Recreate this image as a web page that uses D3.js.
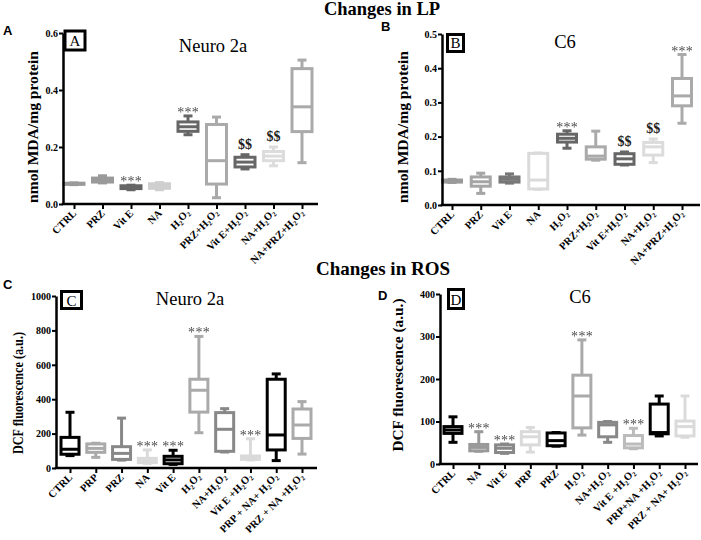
<!DOCTYPE html>
<html>
<head>
<meta charset="utf-8">
<script src="https://cdn.jsdelivr.net/npm/d3@7"></script>
<style>
  html, body { margin: 0; padding: 0; background: #fff; }
  svg { display: block; }
</style>
</head>
<body>
<svg id="chart" width="701" height="540"></svg>
<script>
// ---------------- DATA ----------------
// Box stats per group: [min, q1, median, q3, max]
const lpCategories = ["CTRL", "PRZ", "Vit E", "NA", "H₂O₂", "PRZ+H₂O₂", "Vit E+H₂O₂", "NA+H₂O₂", "NA+PRZ+H₂O₂"];
const lpNeuroStats = [
  [0.068, 0.069, 0.071, 0.073, 0.074],
  [0.074, 0.077, 0.084, 0.091, 0.099],
  [0.050, 0.054, 0.059, 0.064, 0.066],
  [0.050, 0.055, 0.064, 0.071, 0.075],
  [0.243, 0.255, 0.271, 0.288, 0.309],
  [0.022, 0.070, 0.152, 0.279, 0.305],
  [0.123, 0.130, 0.147, 0.164, 0.173],
  [0.134, 0.152, 0.168, 0.184, 0.200],
  [0.145, 0.254, 0.341, 0.475, 0.505]
];
const lpNeuroMarks = ["", "", "***", "", "***", "", "$$", "$$", ""];

const lpC6Stats = [
  [0.066, 0.067, 0.070, 0.073, 0.075],
  [0.034, 0.055, 0.068, 0.082, 0.093],
  [0.064, 0.067, 0.075, 0.082, 0.091],
  [0.046, 0.047, 0.073, 0.151, 0.152],
  [0.166, 0.184, 0.195, 0.207, 0.217],
  [0.131, 0.134, 0.143, 0.170, 0.216],
  [0.117, 0.119, 0.135, 0.150, 0.155],
  [0.124, 0.146, 0.170, 0.183, 0.193],
  [0.239, 0.290, 0.319, 0.370, 0.440]
];
const lpC6Marks = ["", "", "", "", "***", "", "$$", "$$", "***"];

const rosNeuroCategories = ["CTRL", "PRP", "PRZ", "NA", "Vit E", "H₂O₂", "NA+H₂O₂", "Vit E +H₂O₂", "PRP + NA+ H₂O₂", "PRZ + NA +H₂O₂"];
const rosNeuroStats = [
  [72, 80, 109, 178, 324],
  [62, 91, 114, 140, 144],
  [46, 50, 85, 124, 290],
  [27, 31, 43, 56, 105],
  [21, 25, 47, 68, 103],
  [205, 325, 452, 516, 765],
  [93, 97, 225, 322, 345],
  [47, 50, 58, 70, 170],
  [43, 105, 192, 516, 547],
  [81, 172, 250, 343, 386]
];
const rosNeuroMarks = ["", "", "", "***", "***", "***", "", "***", "", ""];

const rosC6Categories = ["CTRL", "NA", "Vit E", "PRP", "PRZ", "H₂O₂", "NA+H₂O₂", "Vit E +H₂O₂", "PRP+NA +H₂O₂", "PRZ + NA+ H₂O₂"];
const rosC6Stats = [
  [51, 72, 80, 88, 111],
  [30, 31, 39, 46, 76],
  [25, 27, 37, 45, 47],
  [28, 45, 64, 76, 86],
  [42, 43, 55, 73, 74],
  [68, 85, 160, 209, 292],
  [51, 64, 92, 98, 100],
  [36, 38, 47, 67, 84],
  [66, 71, 74, 141, 160],
  [63, 66, 88, 101, 160]
];
const rosC6Marks = ["", "***", "***", "", "", "***", "", "***", "", ""];

const lpNeuroTicks = [0, 0.2, 0.4, 0.6];
const lpC6Ticks = [0, 0.1, 0.2, 0.3, 0.4, 0.5];
const rosNeuroTicks = [0, 200, 400, 600, 800, 1000];
const rosC6Ticks = [0, 100, 200, 300, 400];

// ---------------- STYLE / LAYOUT ----------------
const panels = [
  {
    cats: lpCategories, stats: lpNeuroStats, marks: lpNeuroMarks,
    colors: ["#9a9a9a", "#9a9a9a", "#666", "#cfcfcf", "#666", "#aaa", "#666", "#dcdcdc", "#aaa"],
    domain: [0, 0.6], ticks: lpNeuroTicks, fmt: d3.format(".1f"),
    ax: 63, axEnd: 318, pFirst: 74, pLast: 302, yTop: 33, yBot: 204, boxW: 20,
    title: "Neuro 2a", titleX: 213, titleY: 52,
    letter: "A", letterX: 3, letterY: 35,
    box: [65, 31, 20, 19], boxLetterY: 46,
    yLabel: "nmol MDA/mg protein", yLabelX: 38, yLabelY: 127, yLabelLen: 152
  },
  {
    cats: lpCategories, stats: lpC6Stats, marks: lpC6Marks,
    colors: ["#9a9a9a", "#a5a5a5", "#777", "#dadada", "#666", "#aaa", "#666", "#dcdcdc", "#aaa"],
    domain: [0, 0.5], ticks: lpC6Ticks, fmt: d3.format(".1f"),
    ax: 442, axEnd: 700, pFirst: 452, pLast: 682, yTop: 34, yBot: 205, boxW: 19,
    title: "C6", titleX: 565, titleY: 48,
    letter: "B", letterX: 381, letterY: 31,
    box: [447.5, 34.5, 16, 17], boxLetterY: 48,
    yLabel: "nmol MDA/mg protein", yLabelX: 408, yLabelY: 127, yLabelLen: 152
  },
  {
    cats: rosNeuroCategories, stats: rosNeuroStats, marks: rosNeuroMarks,
    colors: ["#000", "#aaa", "#888", "#dadada", "#000", "#aaa", "#888", "#dadada", "#000", "#aaa"],
    domain: [0, 1000], ticks: rosNeuroTicks, fmt: d3.format("d"),
    ax: 56, axEnd: 317, pFirst: 70, pLast: 302, yTop: 296, yBot: 468, boxW: 18,
    title: "Neuro 2a", titleX: 190, titleY: 305,
    letter: "C", letterX: 3, letterY: 289,
    box: [61.5, 291.5, 20, 17], boxLetterY: 306,
    yLabel: "DCF fluorescence (a.u.)", yLabelX: 23, yLabelY: 393, yLabelLen: 122
  },
  {
    cats: rosC6Categories, stats: rosC6Stats, marks: rosC6Marks,
    colors: ["#000", "#999", "#888", "#dadada", "#000", "#aaa", "#888", "#bbb", "#000", "#dadada"],
    domain: [0, 400], ticks: rosC6Ticks, fmt: d3.format("d"),
    ax: 440, axEnd: 698, pFirst: 453, pLast: 685, yTop: 294, yBot: 464, boxW: 18,
    title: "C6", titleX: 580, titleY: 303,
    letter: "D", letterX: 378, letterY: 300,
    box: [448.5, 289.5, 15, 19], boxLetterY: 305,
    yLabel: "DCF fluorescence (a.u.)", yLabelX: 403, yLabelY: 375, yLabelLen: 153
  }
];

const SERIF = "'Liberation Serif', 'Times New Roman', serif";
const SANS = "'Liberation Sans', Arial, sans-serif";
const svg = d3.select("#chart");

// grayscale rendering filter for thin glyphs
const defs = svg.append("defs");
defs.append("filter").attr("id", "gray").attr("x", "-20%").attr("y", "-50%").attr("width", "140%").attr("height", "200%")
  .append("feColorMatrix").attr("type", "saturate").attr("values", 0);

// Global headings
svg.append("text").attr("x", 382).attr("y", 15).attr("text-anchor", "middle")
  .attr("font-family", SERIF).attr("font-weight", "bold").attr("font-size", 18.5)
  .text("Changes in LP");
svg.append("text").attr("x", 383).attr("y", 275).attr("text-anchor", "middle")
  .attr("font-family", SERIF).attr("font-weight", "bold").attr("font-size", 19)
  .text("Changes in ROS");

// text with subscript 2
function richText(sel, str) {
  const parts = str.split(/(₂)/);
  let shifted = false;
  parts.forEach(p => {
    if (p === "") return;
    if (p === "₂") {
      sel.append("tspan").attr("font-size", "0.65em").attr("dy", shifted ? null : "0.3em").text("2");
      shifted = true;
    } else {
      const t = sel.append("tspan").text(p);
      if (shifted) { t.attr("dy", "-0.3em"); shifted = false; }
    }
  });
}

panels.forEach(p => {
  const g = svg.append("g");
  const x = d3.scalePoint().domain(p.cats).range([p.pFirst, p.pLast]);
  const y = d3.scaleLinear().domain(p.domain).range([p.yBot, p.yTop]);
  const starG = g.append("g").attr("filter", "url(#gray)").attr("opacity", 0.99);

  // boxes
  const hw = p.boxW / 2, cw = 4.5;
  p.cats.forEach((c, i) => {
    const [mn, q1, md, q3, mx] = p.stats[i];
    const cx = x(c), col = p.colors[i];
    const bg = g.append("g").attr("stroke", col).attr("stroke-width", 3).attr("fill", "none");
    bg.append("line").attr("x1", cx).attr("x2", cx).attr("y1", y(mx)).attr("y2", y(q3));
    bg.append("line").attr("x1", cx).attr("x2", cx).attr("y1", y(q1)).attr("y2", y(mn));
    bg.append("line").attr("x1", cx - cw).attr("x2", cx + cw).attr("y1", y(mx)).attr("y2", y(mx));
    bg.append("line").attr("x1", cx - cw).attr("x2", cx + cw).attr("y1", y(mn)).attr("y2", y(mn));
    bg.append("rect").attr("x", cx - hw).attr("y", y(q3)).attr("width", p.boxW)
      .attr("height", Math.max(0.5, y(q1) - y(q3))).attr("fill", "#fff");
    bg.append("line").attr("x1", cx - hw).attr("x2", cx + hw).attr("y1", y(md)).attr("y2", y(md));

    const m = p.marks[i];
    if (m === "***") {
      starG.append("text").attr("x", cx + 0.15).attr("y", y(mx) + 1).attr("text-anchor", "middle")
        .attr("font-family", SERIF).attr("font-size", 14).attr("letter-spacing", 0.3)
        .attr("fill", "#4a4a4a").text("***");
    } else if (m === "$$") {
      g.append("text").attr("x", cx).attr("y", y(mx) - 6).attr("text-anchor", "middle")
        .attr("font-family", SERIF).attr("font-weight", "bold").attr("font-size", 14)
        .attr("fill", "#222").text(m);
    }
  });
  starG.raise();

  // y axis
  const yAxis = d3.axisLeft(y).tickValues(p.ticks).tickFormat(p.fmt).tickSize(4).tickSizeOuter(0).tickPadding(1);
  const ya = g.append("g").attr("transform", `translate(${p.ax},0)`).call(yAxis);
  ya.select(".domain").attr("stroke-width", 2.5).attr("stroke", "#000");
  ya.selectAll(".tick line").attr("stroke-width", 2).attr("stroke", "#000");
  ya.selectAll(".tick text").attr("font-family", SERIF).attr("font-weight", "bold")
    .attr("font-size", 10).attr("fill", "#000");

  // x axis
  const xAxis = d3.axisBottom(x).tickSize(5).tickSizeOuter(0).tickFormat("");
  const xa = g.append("g").attr("transform", `translate(0,${p.yBot})`).call(xAxis);
  xa.select(".domain").remove();
  xa.selectAll(".tick line").attr("stroke-width", 2).attr("stroke", "#000");
  g.append("line").attr("x1", p.ax - 1.25).attr("x2", p.axEnd).attr("y1", p.yBot).attr("y2", p.yBot)
    .attr("stroke", "#000").attr("stroke-width", 2.5);

  // x labels
  p.cats.forEach(c => {
    const t = g.append("text")
      .attr("transform", `translate(${x(c) + 3},${p.yBot + 10}) rotate(-45)`)
      .attr("text-anchor", "end")
      .attr("font-family", SERIF).attr("font-weight", "bold").attr("font-size", 10.5);
    richText(t, c);
  });

  // y label
  g.append("text")
    .attr("transform", `translate(${p.yLabelX},${p.yLabelY}) rotate(-90)`)
    .attr("text-anchor", "middle")
    .attr("font-family", SERIF).attr("font-weight", "bold").attr("font-size", 14.5)
    .attr("textLength", p.yLabelLen).attr("lengthAdjust", "spacingAndGlyphs")
    .text(p.yLabel);

  // title
  g.append("text").attr("x", p.titleX).attr("y", p.titleY).attr("text-anchor", "middle")
    .attr("font-family", SERIF).attr("font-size", 18.5).text(p.title);

  // panel letter
  g.append("text").attr("x", p.letterX).attr("y", p.letterY)
    .attr("font-family", SANS).attr("font-weight", "bold").attr("font-size", 13).text(p.letter);

  // boxed letter
  const [bx, by, bw, bh] = p.box;
  g.append("rect").attr("x", bx).attr("y", by).attr("width", bw).attr("height", bh)
    .attr("fill", "#fff").attr("stroke", "#000").attr("stroke-width", 3);
  g.append("text").attr("x", bx + bw / 2).attr("y", p.boxLetterY).attr("text-anchor", "middle")
    .attr("font-family", SERIF).attr("font-size", 15).text(p.letter);
});
</script>
</body>
</html>
